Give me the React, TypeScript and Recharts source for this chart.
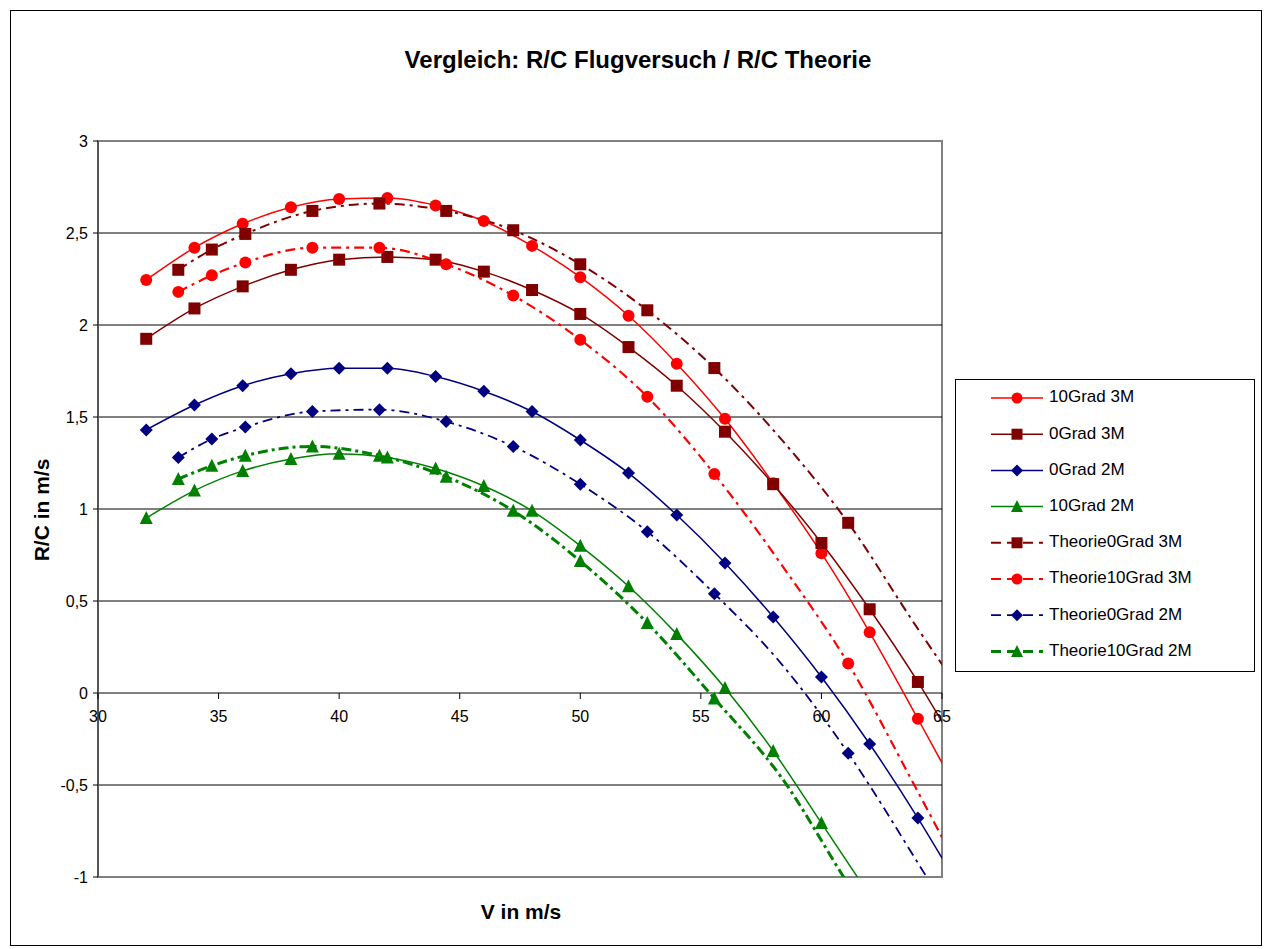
import React from "react";
import { ComposedChart, Line, XAxis, YAxis, ReferenceLine, ReferenceArea } from "recharts";

// flight test velocities (m/s); last value is only the line's run-out past the axis
const vFlight = [32, 34, 36, 38, 40, 42, 44, 46, 48, 50, 52, 54, 56, 58, 60, 62, 64, 66];
const rcFlight10Grad3M = [2.245, 2.42, 2.55, 2.64, 2.685, 2.69, 2.65, 2.565, 2.43, 2.26, 2.05, 1.79, 1.49, 1.14, 0.76, 0.33, -0.14, -0.62];
const rcFlight0Grad3M = [1.925, 2.09, 2.21, 2.3, 2.355, 2.37, 2.355, 2.29, 2.19, 2.06, 1.88, 1.67, 1.42, 1.135, 0.815, 0.455, 0.06, -0.38];
const rcFlight0Grad2M = [1.43, 1.565, 1.67, 1.735, 1.765, 1.765, 1.72, 1.64, 1.53, 1.375, 1.195, 0.967, 0.707, 0.413, 0.087, -0.277, -0.68, -1.12];
const rcFlight10Grad2M = [0.951, 1.1, 1.207, 1.272, 1.3, 1.28, 1.22, 1.125, 0.99, 0.8, 0.58, 0.32, 0.027, -0.315, -0.707, -1.1];

// theory velocities (120 ... 240 km/h)
const vTheory = [33.33, 34.72, 36.11, 38.89, 41.67, 44.44, 47.22, 50, 52.78, 55.56, 58.33, 61.11, 63.89, 66.67];
const vTheoryMarked = [33.33, 34.72, 36.11, 38.89, 41.67, 44.44, 47.22, 50, 52.78, 55.56, 61.11];
const rcTheory0Grad3M = [2.3, 2.41, 2.495, 2.62, 2.66, 2.62, 2.515, 2.33, 2.08, 1.766, 1.38, 0.925, 0.37, -0.16];
const rcTheory10Grad3M = [2.18, 2.27, 2.34, 2.42, 2.42, 2.33, 2.16, 1.92, 1.61, 1.19, 0.7, 0.16, -0.51, -1.2];
const rcTheory0Grad2M = [1.28, 1.38, 1.445, 1.53, 1.54, 1.475, 1.34, 1.135, 0.877, 0.54, 0.16, -0.327, -0.9, -1.5];
const rcTheory10Grad2M = [1.163, 1.235, 1.29, 1.34, 1.29, 1.175, 0.99, 0.717, 0.38, -0.03, -0.457, -1.04, -1.6];

const xTicks = [30, 35, 40, 45, 50, 55, 60, 65];
const yTicks = [-1, -0.5, 0, 0.5, 1, 1.5, 2, 2.5, 3];
const xDomain: [number, number] = [30, 65];
const yDomain: [number, number] = [-1, 3];

type Shape = "circle" | "square" | "diamond" | "triangle";
type Series = { name: string; v: number[]; rc: number[]; color: string; width: number; dash?: string; shape: Shape; marked?: number[] };

const series: Series[] = [
  { name: "10Grad 3M", v: vFlight, rc: rcFlight10Grad3M, color: "#FF0000", width: 1.5, shape: "circle" },
  { name: "0Grad 3M", v: vFlight, rc: rcFlight0Grad3M, color: "#800000", width: 1.5, shape: "square" },
  { name: "0Grad 2M", v: vFlight, rc: rcFlight0Grad2M, color: "#000080", width: 1.5, shape: "diamond" },
  { name: "10Grad 2M", v: vFlight, rc: rcFlight10Grad2M, color: "#008000", width: 1.5, shape: "triangle" },
  { name: "Theorie0Grad 3M", v: vTheory, rc: rcTheory0Grad3M, color: "#800000", width: 2, dash: "10 5 3 5", shape: "square", marked: vTheoryMarked },
  { name: "Theorie10Grad 3M", v: vTheory, rc: rcTheory10Grad3M, color: "#FF0000", width: 2.2, dash: "10 5 3 5", shape: "circle", marked: vTheoryMarked },
  { name: "Theorie0Grad 2M", v: vTheory, rc: rcTheory0Grad2M, color: "#000080", width: 1.8, dash: "10 5 3 5", shape: "diamond", marked: vTheoryMarked },
  { name: "Theorie10Grad 2M", v: vTheory, rc: rcTheory10Grad2M, color: "#008000", width: 3, dash: "10 4 3 4", shape: "triangle", marked: vTheoryMarked },
];

const W = 1250, H = 934;
const M = { top: 130, right: 319, left: 0, bottom: 38 };
const X_AXIS_H = 30, Y_AXIS_W = 87;
const plotH = H - M.top - M.bottom - X_AXIS_H;
const zeroY = M.top + (plotH * (yDomain[1] - 0)) / (yDomain[1] - yDomain[0]);
const FONT = "'Liberation Sans', Arial, sans-serif";

function Marker({ shape, cx, cy, color, s }: { shape: Shape; cx: number; cy: number; color: string; s: number }) {
  const h = s / 2;
  if (shape === "circle") return <circle cx={cx} cy={cy} r={h} fill={color} />;
  if (shape === "square") return <rect x={cx - h} y={cy - h} width={s} height={s} fill={color} />;
  if (shape === "diamond") return <polygon points={`${cx},${cy - h} ${cx + h},${cy} ${cx},${cy + h} ${cx - h},${cy}`} fill={color} />;
  return <polygon points={`${cx},${cy - h - 1} ${cx + h + 0.5},${cy + h} ${cx - h - 0.5},${cy + h}`} fill={color} />;
}

const markerSize: Record<Shape, number> = { circle: 12, square: 12, diamond: 13, triangle: 12 };

const dotFor = (s: Series) => (p: any) => {
  const { cx, cy, payload, index } = p;
  const inside = payload.v >= xDomain[0] && payload.v <= xDomain[1] && payload.rc >= yDomain[0] && payload.rc <= yDomain[1];
  const show = inside && (!s.marked || s.marked.includes(payload.v));
  if (!show) return <g key={`d-${index}`} />;
  return (
    <g key={`d-${index}`}>
      <Marker shape={s.shape} cx={cx} cy={cy} color={s.color} s={markerSize[s.shape]} />
    </g>
  );
};

const XTick = (p: any) => {
  const { x, payload } = p;
  return (
    <g>
      <line x1={x} x2={x} y1={zeroY} y2={zeroY + 6} stroke="#000" />
      <text x={x} y={zeroY + 25} textAnchor="middle" dominantBaseline="middle" fontSize={16} fontFamily={FONT} fill="#000">
        {payload.value}
      </text>
    </g>
  );
};

function LegendBox() {
  return (
    <svg width={300} height={293} style={{ position: "absolute", left: 944, top: 368 }}>
      <rect x={0.5} y={0.5} width={299} height={292} fill="#fff" stroke="#000" />
      {series.map((s, i) => {
        const y = 19 + i * 36.2;
        return (
          <g key={s.name}>
            <line x1={36} x2={88} y1={y} y2={y} stroke={s.color} strokeWidth={s.width} strokeDasharray={s.dash ? "10 6" : undefined} />
            <Marker shape={s.shape} cx={62} cy={y} color={s.color} s={markerSize[s.shape] - 1} />
            <text x={94} y={y} dominantBaseline="middle" fontSize={17} fontFamily={FONT} fill="#000">
              {s.name}
            </text>
          </g>
        );
      })}
    </svg>
  );
}

export default function App() {
  return (
    <div style={{ position: "relative", width: W, height: H, margin: 2, border: "1px solid #000", background: "#fff", fontFamily: FONT }}>
      <div style={{ position: "absolute", left: 627, top: 49, transform: "translate(-50%, -50%)", fontSize: 24, fontWeight: "bold", whiteSpace: "nowrap" }}>
        Vergleich: R/C Flugversuch / R/C Theorie
      </div>
      <div style={{ position: "absolute", left: 510, top: 901, transform: "translate(-50%, -50%)", fontSize: 21, fontWeight: "bold", whiteSpace: "nowrap" }}>
        V in m/s
      </div>
      <div style={{ position: "absolute", left: 31, top: 499, transform: "translate(-50%, -50%) rotate(-90deg)", fontSize: 21, fontWeight: "bold", whiteSpace: "nowrap" }}>
        R/C in m/s
      </div>
      <ComposedChart width={W} height={H} margin={M} style={{ position: "absolute", left: 0, top: 0 }}>
        <XAxis
          type="number"
          dataKey="v"
          domain={xDomain}
          ticks={xTicks}
          allowDataOverflow
          axisLine={false}
          tickLine={false}
          height={X_AXIS_H}
          tick={(p: any) => <XTick {...p} />}
        />
        <YAxis
          type="number"
          domain={yDomain}
          ticks={yTicks}
          allowDataOverflow
          width={Y_AXIS_W}
          axisLine={{ stroke: "#555", strokeWidth: 2 }}
          tickLine={{ stroke: "#000" }}
          tickSize={5}
          tickMargin={5}
          tick={{ fontSize: 16, fill: "#000", fontFamily: FONT }}
          tickFormatter={(t: number) => String(t).replace(".", ",")}
        />
        <ReferenceArea x1={xDomain[0]} x2={xDomain[1]} y1={yDomain[0]} y2={yDomain[1]} fill="none" stroke="#808080" strokeWidth={2} />
        {yTicks.filter((t) => t > yDomain[0] && t < yDomain[1]).map((t) => (
          <ReferenceLine key={t} y={t} stroke="#000" strokeWidth={1} />
        ))}
        {series.map((s) => (
          <Line
            key={s.name}
            data={s.v.slice(0, s.rc.length).map((v, i) => ({ v, rc: s.rc[i] }))}
            dataKey="rc"
            name={s.name}
            type="monotone"
            stroke={s.color}
            strokeWidth={s.width}
            strokeDasharray={s.dash}
            dot={dotFor(s)}
            activeDot={false}
            isAnimationActive={false}
          />
        ))}
      </ComposedChart>
      <LegendBox />
    </div>
  );
}
